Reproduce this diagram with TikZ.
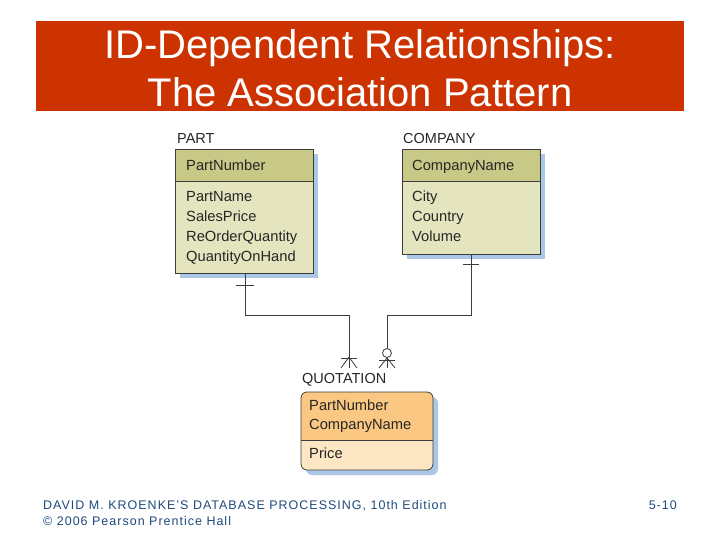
\documentclass[tikz,border=0pt]{standalone}
\usepackage{fontspec}
\setmainfont{Liberation Sans}
\definecolor{titlered}{RGB}{204,51,0}
\definecolor{olivehead}{RGB}{200,200,135}
\definecolor{olivebody}{RGB}{228,228,190}
\definecolor{orangehead}{RGB}{250,200,130}
\definecolor{orangebody}{RGB}{253,230,195}
\definecolor{shadowblue}{RGB}{170,200,230}
\definecolor{footblue}{RGB}{30,75,125}
\definecolor{edgegray}{RGB}{60,60,60}
\tikzset{
  attr/.style={anchor=mid west, inner sep=0pt, yshift=-3pt, font=\fontsize{14.7}{16}\selectfont, text=black!85},
  entlabel/.style={anchor=mid west, inner sep=0pt, yshift=-3pt, font=\fontsize{14.5}{16}\selectfont, text=black!85},
  rel/.style={draw=edgegray, line width=0.8pt},
  foot/.style={anchor=mid west, inner sep=0pt, yshift=-3pt, font=\fontsize{12.5}{14}\selectfont\addfontfeatures{LetterSpace=8}, text=footblue},
}
\begin{document}
\begin{tikzpicture}[x=1pt,y=-1pt]
\useasboundingbox (0,0) rectangle (720,540);
% title
\fill[titlered] (36,21) rectangle (684,111);
\node[text=white, align=center, font=\fontsize{40}{48}\selectfont] (title) at (360,68) {ID-Dependent Relationships:\\The Association Pattern};

% PART
\node[entlabel] (partlbl) at (177,138) {PART};
\fill[shadowblue] (180,154) rectangle (318,278);
\fill[olivebody] (175,149) rectangle (313,273);
\fill[olivehead] (175,149) rectangle (313,181);
\draw[edgegray, line width=0.8pt] (175,149) rectangle (313,273);
\draw[edgegray, line width=0.8pt] (175,181) -- (313,181);
\node[attr] (pk1) at (186,165) {PartNumber};
\node[attr] (pa1) at (186,196) {PartName};
\node[attr] (pa2) at (186,216) {SalesPrice};
\node[attr] (pa3) at (186,236) {ReOrderQuantity};
\node[attr] (pa4) at (186,256) {QuantityOnHand};
\coordinate (partbot) at (245,273);

% COMPANY
\node[entlabel] (complbl) at (403,138) {COMPANY};
\fill[shadowblue] (407,154) rectangle (545,259);
\fill[olivebody] (402,149) rectangle (540,254);
\fill[olivehead] (402,149) rectangle (540,181);
\draw[edgegray, line width=0.8pt] (402,149) rectangle (540,254);
\draw[edgegray, line width=0.8pt] (402,181) -- (540,181);
\node[attr] (ck1) at (412,165) {CompanyName};
\node[attr] (ca1) at (412,196) {City};
\node[attr] (ca2) at (412,216) {Country};
\node[attr] (ca3) at (412,236) {Volume};
\coordinate (compbot) at (471,254);

% QUOTATION
\node[entlabel] (quotlbl) at (302,378) {QUOTATION};
\fill[shadowblue, rounded corners=6pt] (306,397) rectangle (438,475);
\begin{scope}
\clip[rounded corners=6pt] (301,392) rectangle (433,470);
\fill[orangebody] (301,392) rectangle (433,470);
\fill[orangehead] (301,392) rectangle (433,440);
\end{scope}
\draw[edgegray, line width=0.8pt, rounded corners=6pt] (301,392) rectangle (433,470);
\draw[edgegray, line width=0.8pt] (301,440) -- (433,440);
\node[attr] (qk1) at (309,405) {PartNumber};
\node[attr] (qk2) at (309,424) {CompanyName};
\node[attr] (qa1) at (309,453) {Price};

% relationships
\coordinate (qin1) at (349,368);
\coordinate (qin2) at (387,368);
\draw[rel] (partbot) -- (245,315) -- (349,315) -- (qin1);
\draw[rel] (compbot) -- (471,315) -- (387,315) -- (qin2);
% PART end: one
\draw[rel] (236,285) -- (254,285);
% COMPANY end: one
\draw[rel] (463,264) -- (479,264);
% QUOTATION end from PART: mandatory many
\draw[rel] (341,358) -- (357,358);
\draw[rel] (349,357) -- (341,368);
\draw[rel] (349,357) -- (357,368);
% QUOTATION end from COMPANY: optional many
\draw[rel, fill=white] (387,353) circle (4.5);
\draw[rel] (379,360) -- (395,360);
\draw[rel] (387,358) -- (379,368);
\draw[rel] (387,358) -- (395,368);

% footer
\node[foot] (foot1) at (43,504) {DAVID M. KROENKE'S DATABASE PROCESSING, 10th Edition};
\node[foot] (foot2) at (43,520) {© 2006 Pearson Prentice Hall};
\node[foot, anchor=mid east] (pagenum) at (677,504) {5-10};
\end{tikzpicture}
\end{document}
